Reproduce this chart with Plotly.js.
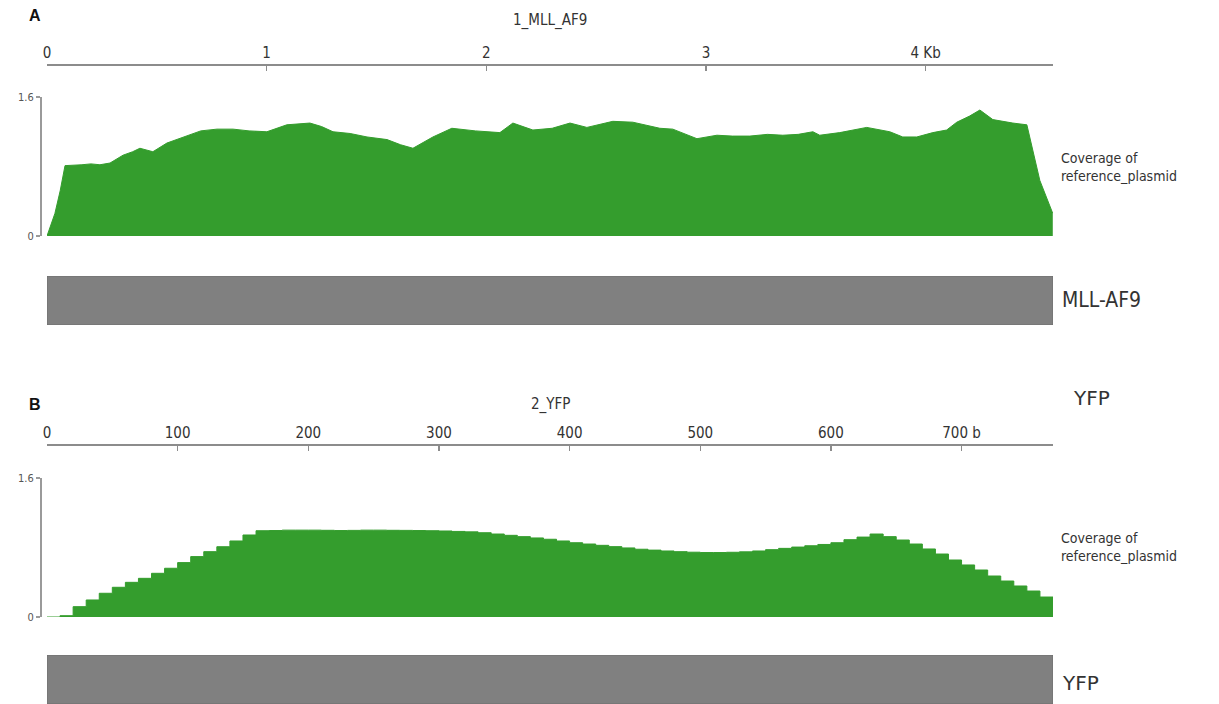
<!DOCTYPE html>
<html>
<head>
<meta charset="utf-8">
<script src="https://cdn.plot.ly/plotly-3.0.1.min.js"></script>
<style>
  html, body { margin: 0; padding: 0; background: #ffffff; }
  #chart { width: 1219px; height: 704px; }
</style>
</head>
<body>
<div id="chart"></div>
<script>
// ---- Panel A: 1_MLL_AF9 read coverage (position in bp, coverage) ----
const mllLength = 4580;
const mllPos = [0, 18, 36, 60, 82, 159, 200, 241, 287, 346, 390, 423, 482, 546, 600, 637, 700, 774, 847, 920,
  1001, 1092, 1150, 1197, 1250, 1302, 1380, 1457, 1548, 1610, 1666, 1757, 1843, 1950, 2062, 2121,
  2212, 2300, 2381, 2458, 2576, 2667, 2790, 2849, 2959, 3050, 3120, 3200, 3280, 3350, 3420, 3487,
  3518, 3609, 3732, 3837, 3896, 3960, 4033, 4096, 4142, 4200, 4247, 4306, 4397, 4461, 4520, 4579];
const mllCov = [0, 0.14, 0.26, 0.52, 0.81, 0.82, 0.83, 0.82, 0.84, 0.93, 0.97, 1.01, 0.97, 1.07, 1.12, 1.16, 1.21, 1.23, 1.23, 1.21,
  1.20, 1.28, 1.29, 1.30, 1.26, 1.20, 1.18, 1.14, 1.11, 1.05, 1.01, 1.14, 1.24, 1.21, 1.19, 1.30,
  1.22, 1.24, 1.30, 1.25, 1.32, 1.31, 1.24, 1.23, 1.12, 1.16, 1.15, 1.15, 1.17, 1.16, 1.17, 1.20,
  1.16, 1.19, 1.25, 1.20, 1.14, 1.14, 1.19, 1.22, 1.31, 1.38, 1.45, 1.34, 1.30, 1.28, 0.64, 0.26];

// ---- Panel B: 2_YFP read coverage, 10 bp bins ----
const yfpLength = 770;
const yfpBinStart = [];
for (let b = 0; b <= yfpLength; b += 10) yfpBinStart.push(b);
const yfpCov = [0, 0.015, 0.119, 0.196, 0.273, 0.342, 0.399, 0.445, 0.503, 0.561,
  0.626, 0.695, 0.752, 0.809, 0.875, 0.944, 0.993, 0.995, 1.0, 1.0,
  1.0, 0.998, 0.995, 0.997, 1.0, 1.0, 0.998, 0.997, 0.995, 0.993,
  0.99, 0.985, 0.98, 0.97, 0.955, 0.94, 0.925, 0.91, 0.895, 0.875,
  0.855, 0.84, 0.825, 0.81, 0.795, 0.78, 0.77, 0.76, 0.752, 0.746,
  0.742, 0.742, 0.745, 0.75, 0.76, 0.775, 0.79, 0.805, 0.82, 0.835,
  0.855, 0.89, 0.92, 0.955, 0.925, 0.886, 0.84, 0.783, 0.725, 0.656,
  0.599, 0.541, 0.472, 0.414, 0.357, 0.299, 0.23, 0.23];

// ---- ruler ticks ----
const mllTickVals = [0, 1000, 2000, 3000, 4000];
const mllTickText = ['0', '1', '2', '3', '4 Kb'];
const yfpTickVals = [0, 100, 200, 300, 400, 500, 600, 700];
const yfpTickText = ['0', '100', '200', '300', '400', '500', '600', '700 b'];
const covTickVals = [0, 1.6];
const covTickText = ['0', '1.6'];

// ---- feature annotations ----
const mllFeature = 'MLL-AF9';
const yfpFeature = 'YFP';

const W = 1219, H = 704;
const px = v => v / W;
const py = v => 1 - v / H;

const GREEN = '#349d2d';
const GREY = '#808080';
const RULER = '#8c8c8c';
const TXT = '#333333';
const FONT = '"DejaVu Sans Condensed", "DejaVu Sans", sans-serif';
const NARROW = '"Liberation Sans Narrow", "DejaVu Sans Condensed", sans-serif';

const traces = [
  {
    x: mllPos, y: mllCov, xaxis: 'x', yaxis: 'y',
    type: 'scatter', mode: 'lines', fill: 'tozeroy',
    line: { color: GREEN, width: 1 }, fillcolor: GREEN,
    hoverinfo: 'x+y', showlegend: false
  },
  {
    x: [mllLength], y: [0], base: [0], xaxis: 'x', yaxis: 'y3',
    type: 'bar', orientation: 'h', width: [1],
    marker: { color: GREY, line: { color: '#6f6f6f', width: 1 } },
    hoverinfo: 'none', showlegend: false
  },
  {
    x: yfpBinStart, y: yfpCov, xaxis: 'x2', yaxis: 'y2',
    type: 'scatter', mode: 'lines', fill: 'tozeroy',
    line: { color: GREEN, width: 1, shape: 'hv' }, fillcolor: GREEN,
    hoverinfo: 'x+y', showlegend: false
  },
  {
    x: [yfpLength], y: [0], base: [0], xaxis: 'x2', yaxis: 'y4',
    type: 'bar', orientation: 'h', width: [1],
    marker: { color: GREY, line: { color: '#6f6f6f', width: 1 } },
    hoverinfo: 'none', showlegend: false
  }
];

const ruler = (range, vals, text, yPix) => ({
  domain: [px(47), px(1053)],
  range: range,
  anchor: 'free',
  position: py(yPix),
  side: 'top',
  showline: true, linecolor: RULER, linewidth: 2,
  ticks: 'inside', ticklen: 5, tickwidth: 1.2, tickcolor: RULER,
  tickvals: vals, ticktext: text,
  tickfont: { family: FONT, size: 15, color: TXT },
  showgrid: false, zeroline: false, fixedrange: true
});

const covAxis = (topPix, basePix) => ({
  domain: [py(basePix), py(topPix)],
  range: [0, 1.6],
  anchor: 'free',
  position: px(40),
  showline: true, linecolor: '#9a9a9a', linewidth: 1.5,
  ticks: 'outside', ticklen: 4, tickwidth: 1.5, tickcolor: '#9a9a9a',
  tickvals: covTickVals, ticktext: covTickText,
  tickfont: { family: FONT, size: 11, color: '#555555' },
  showgrid: false, zeroline: false, fixedrange: true
});

const label = (text, xPix, yPix, size, opts) => Object.assign({
  text: text, xref: 'paper', yref: 'paper',
  x: px(xPix), y: py(yPix), xanchor: 'left', yanchor: 'middle',
  showarrow: false, font: { family: FONT, size: size, color: TXT }
}, opts || {});

const boldFont = { family: '"Liberation Sans", Arial, sans-serif', size: 16, color: '#111' };

const layout = {
  width: W, height: H,
  margin: { l: 0, r: 0, t: 0, b: 0 },
  paper_bgcolor: '#ffffff', plot_bgcolor: 'rgba(0,0,0,0)',
  xaxis: ruler([0, mllLength], mllTickVals, mllTickText, 65),
  xaxis2: ruler([0, yfpLength], yfpTickVals, yfpTickText, 445),
  yaxis: covAxis(97, 236),
  yaxis2: covAxis(478, 617),
  yaxis3: { domain: [py(325), py(276)], range: [-0.5, 0.5], visible: false, anchor: 'x', fixedrange: true },
  yaxis4: { domain: [0, py(655)], range: [-0.5, 0.5], visible: false, anchor: 'x2', fixedrange: true },
  annotations: [
    label('<b>A</b>', 27, 16, 16, { font: boldFont }),
    label('<b>B</b>', 27, 404, 16, { font: boldFont }),
    label('1_MLL_AF9', 550, 21, 15, { xanchor: 'center' }),
    label('2_YFP', 550, 404, 15, { xanchor: 'center' }),
    label('Coverage of<br>reference_plasmid', 1059, 167, 14, { align: 'left' }),
    label('Coverage of<br>reference_plasmid', 1059, 547, 14, { align: 'left' }),
    label(mllFeature, 1060, 300, 21, { font: { family: NARROW, size: 21, color: TXT } }),
    label(yfpFeature, 1071, 398, 21, { font: { family: '"DejaVu Sans", sans-serif', size: 20, color: TXT } }),
    label(yfpFeature, 1060, 683, 21, { font: { family: '"DejaVu Sans", sans-serif', size: 20, color: TXT } })
  ]
};

Plotly.newPlot('chart', traces, layout, { staticPlot: true, displayModeBar: false });
</script>
</body>
</html>
